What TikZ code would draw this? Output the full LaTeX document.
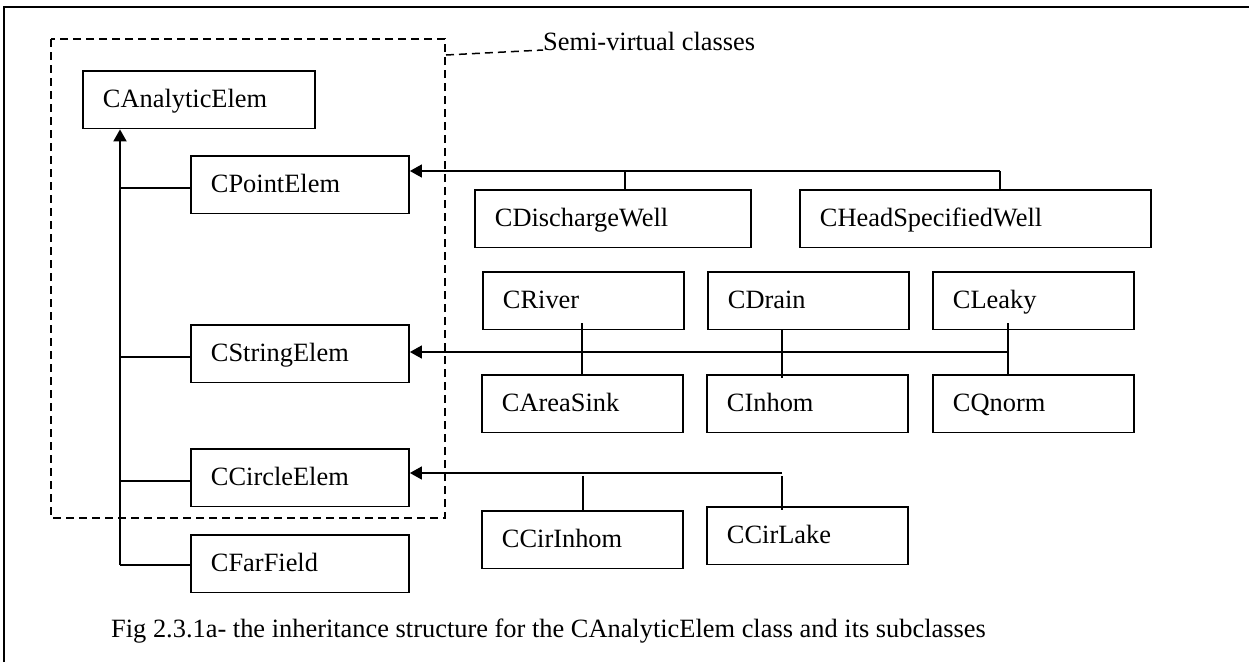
\documentclass[tikz,border=0pt]{standalone}
\usepackage{fontspec}
\setmainfont{Liberation Serif}
\usetikzlibrary{arrows.meta}
\begin{document}
\begin{tikzpicture}[x=1pt,y=-1pt,
  every node/.style={font=\fontsize{26.4pt}{30pt}\selectfont},
  cls/.style={draw, line width=1.9pt, anchor=north west, align=left,
    inner xsep=20pt, inner ysep=17pt, text height=19.5pt, text depth=4pt},
  wA/.style={cls, text width=192pt},
  wB/.style={cls, text width=178pt},
  wC/.style={cls, text width=161pt},
  trunkline/.style={line width=1.9pt},
  con/.style={line width=1.5pt},
  inherit/.style={-{Triangle[length=12pt,width=13pt]}},
  group/.style={line width=1.8pt, dash pattern=on 8pt off 5pt},
  lbl/.style={anchor=base west, inner sep=0pt}
]
\useasboundingbox (0,0) rectangle (1249,662);

% page frame (only the left and top edges fall inside)
\draw[line width=2.4pt] (4,662) -- (4,7) -- (1249,7);

% group of semi-virtual classes
\draw[group] (51,39) rectangle (445,518);
\coordinate (gcorner) at (446,55);
\node[lbl] (semi) at (543,50) {Semi-virtual classes};
\draw[group, line width=1.5pt] (gcorner) -- (semi.base west);

% base class and its direct subclasses
\node[wA] (ae) at (82,70)  {CAnalyticElem};
\node[wB] (pe) at (190,155) {CPointElem};
\node[wB] (se) at (190,324) {CStringElem};
\node[wB] (ce) at (190,448) {CCircleElem};
\node[wB] (ff) at (190,534) {CFarField};

% point elements
\node[cls, text width=236pt] (dw) at (474,189) {CDischargeWell};
\node[cls, text width=311pt] (hw) at (799,189) {CHeadSpecifiedWell};

% string elements
\node[wC] (rv) at (482,271) {CRiver};
\node[wC] (dr) at (707,271) {CDrain};
\node[wC] (lk) at (932,271) {CLeaky};
\node[wC] (as) at (481,374) {CAreaSink};
\node[wC] (ih) at (706,374) {CInhom};
\node[wC] (qn) at (932,374) {CQnorm};

% circle elements
\node[wC] (ci) at (481,510) {CCirInhom};
\node[wC] (cl) at (706,506) {CCirLake};

% trunk to CAnalyticElem
\coordinate (tbot) at (120,565);
\draw[trunkline, inherit] (tbot) -- (tbot |- ae.south);
\draw[trunkline] ([yshift=-3pt]pe.west) -- ([yshift=-3pt]pe.west -| tbot);
\draw[trunkline] ([yshift=-3pt]se.west) -- ([yshift=-3pt]se.west -| tbot);
\draw[trunkline] ([yshift=-3pt]ce.west) -- ([yshift=-3pt]ce.west -| tbot);
\draw[trunkline] (tbot) -- (tbot -| ff.west);

% bus to CPointElem
\coordinate (pj1) at (625,171);
\coordinate (pj2) at (1000,171);
\draw[con] (pj1) -- (pj1 |- dw.north);
\draw[con] (pj2) -- (pj2 |- hw.north);
\draw[con, inherit] (pj2) -- (pj2 -| pe.east);

% bus to CStringElem
\coordinate (sv1) at (582,323);
\coordinate (sv2) at (782,378);
\coordinate (sv3) at (1008,323);
\coordinate (sj) at (1008,352);
\draw[con] (sv1) -- (sv1 |- as.north);
\draw[con] (sv2 |- dr.south) -- (sv2);
\draw[con] (sv3) -- (sv3 |- qn.north);
\draw[con, inherit] (sj) -- (sj -| se.east);

% bus to CCircleElem
\coordinate (cj) at (782,473);
\coordinate (cv1) at (583,476);
\coordinate (cv2) at (782,476);
\coordinate (cv2e) at (782,510);
\draw[con, inherit] (cj) -- (cj -| ce.east);
\draw[con] (cv1) -- (cv1 |- ci.north);
\draw[con] (cv2) -- (cv2e);

% caption
\node[lbl] (cap) at (111,637) {Fig 2.3.1a- the inheritance structure for the CAnalyticElem class and its subclasses};
\end{tikzpicture}
\end{document}
